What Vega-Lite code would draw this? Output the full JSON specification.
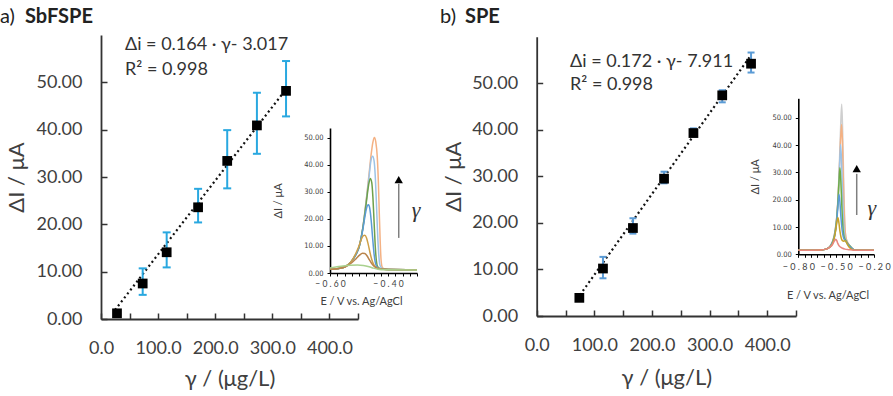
{
"$schema": "https://vega.github.io/schema/vega-lite/v6.json",
"width": 893, "height": 396, "autosize": {"type": "none"}, "padding": 0, "background": "white",
"config": {"view": {"stroke": null}, "font": "Lato",
  "axis": {"grid": false, "domain": true, "ticks": true, "labelFont": "Lato", "titleFont": "Lato", "labelFlush": false, "labelOverlap": false, "labelBound": false, "titleFontWeight": "normal"}},
"datasets": {
 "ptsA": [{"g":28,"I":1.2},{"g":73,"I":7.5,"lo":5.1,"hi":10.7},{"g":115,"I":14.1,"lo":10.9,"hi":18.3},{"g":170,"I":23.6,"lo":20.4,"hi":27.5},{"g":221,"I":33.4,"lo":27.6,"hi":39.9},{"g":273,"I":40.9,"lo":34.9,"hi":47.8},{"g":324,"I":48.2,"lo":42.8,"hi":54.5}],
 "ptsB": [{"g":74,"I":3.9},{"g":115,"I":10.2,"lo":8.1,"hi":12.7},{"g":167,"I":18.9,"lo":17.7,"hi":21.0},{"g":221,"I":29.5,"lo":28.5,"hi":31.0},{"g":272,"I":39.3,"lo":38.6,"hi":40.3},{"g":322,"I":47.4,"lo":45.9,"hi":48.5},{"g":372,"I":54.2,"lo":52.3,"hi":56.6}],
 "trendA": [{"g":24.5,"I":1.9},{"g":325,"I":48.7}],
 "trendB": [{"g":75,"I":4.5},{"g":370,"I":55.7}],
 "eqA": [{"g":42,"I":57.8,"t":"Δi = 0.164 · γ- 3.017"},{"g":42,"I":52.7,"t":"R² = 0.998"}],
 "eqB": [{"g":57.8,"I":54.5,"t":"Δi = 0.172 · γ- 7.911"},{"g":57.8,"I":49.7,"t":"R² = 0.998"}],
 "headA": [{"g":-177,"I":63.9,"t":"a)"}],
 "boldA": [{"g":-133,"I":63.9,"t":"SbFSPE"}],
 "headB": [{"g":-167.8,"I":64.3,"t":"b)"}],
 "boldB": [{"g":-124.4,"I":64.3,"t":"SPE"}],
 "curveA": [
  {"s":"s1","E":-0.6,"I":1.4},{"s":"s1","E":-0.57,"I":1.7},{"s":"s1","E":-0.545,"I":2.5},{"s":"s1","E":-0.525,"I":4.5},{"s":"s1","E":-0.51,"I":7},{"s":"s1","E":-0.5,"I":9.5},{"s":"s1","E":-0.487,"I":16.7},{"s":"s1","E":-0.473,"I":29},{"s":"s1","E":-0.465,"I":37},{"s":"s1","E":-0.458,"I":44},{"s":"s1","E":-0.452,"I":48.5},{"s":"s1","E":-0.447,"I":50.2},{"s":"s1","E":-0.442,"I":48.5},{"s":"s1","E":-0.437,"I":43},{"s":"s1","E":-0.433,"I":33},{"s":"s1","E":-0.43,"I":22},{"s":"s1","E":-0.427,"I":12},{"s":"s1","E":-0.424,"I":5},{"s":"s1","E":-0.42,"I":2.2},{"s":"s1","E":-0.413,"I":1.5},{"s":"s1","E":-0.4,"I":1.3},{"s":"s1","E":-0.3,"I":1.2},
  {"s":"s2","E":-0.6,"I":1.4},{"s":"s2","E":-0.57,"I":1.7},{"s":"s2","E":-0.545,"I":2.5},{"s":"s2","E":-0.525,"I":4.5},{"s":"s2","E":-0.51,"I":7},{"s":"s2","E":-0.5,"I":9.5},{"s":"s2","E":-0.487,"I":16.5},{"s":"s2","E":-0.473,"I":28.5},{"s":"s2","E":-0.465,"I":36},{"s":"s2","E":-0.459,"I":41.5},{"s":"s2","E":-0.453,"I":43.2},{"s":"s2","E":-0.448,"I":41.5},{"s":"s2","E":-0.444,"I":36},{"s":"s2","E":-0.44,"I":26},{"s":"s2","E":-0.436,"I":15},{"s":"s2","E":-0.432,"I":7},{"s":"s2","E":-0.428,"I":3},{"s":"s2","E":-0.422,"I":1.8},{"s":"s2","E":-0.41,"I":1.4},{"s":"s2","E":-0.3,"I":1.2},
  {"s":"s3","E":-0.6,"I":1.4},{"s":"s3","E":-0.57,"I":1.7},{"s":"s3","E":-0.545,"I":2.5},{"s":"s3","E":-0.525,"I":4.5},{"s":"s3","E":-0.51,"I":7},{"s":"s3","E":-0.5,"I":9.5},{"s":"s3","E":-0.487,"I":16.5},{"s":"s3","E":-0.475,"I":26},{"s":"s3","E":-0.467,"I":32.5},{"s":"s3","E":-0.461,"I":35},{"s":"s3","E":-0.456,"I":33.5},{"s":"s3","E":-0.452,"I":28},{"s":"s3","E":-0.448,"I":19},{"s":"s3","E":-0.444,"I":10},{"s":"s3","E":-0.44,"I":4.5},{"s":"s3","E":-0.435,"I":2.2},{"s":"s3","E":-0.425,"I":1.5},{"s":"s3","E":-0.4,"I":1.3},{"s":"s3","E":-0.3,"I":1.2},
  {"s":"s4","E":-0.6,"I":1.4},{"s":"s4","E":-0.57,"I":1.7},{"s":"s4","E":-0.545,"I":2.5},{"s":"s4","E":-0.525,"I":4.5},{"s":"s4","E":-0.51,"I":7},{"s":"s4","E":-0.5,"I":9.5},{"s":"s4","E":-0.487,"I":16},{"s":"s4","E":-0.477,"I":22.5},{"s":"s4","E":-0.471,"I":25},{"s":"s4","E":-0.467,"I":25.3},{"s":"s4","E":-0.463,"I":24},{"s":"s4","E":-0.458,"I":19.5},{"s":"s4","E":-0.453,"I":13},{"s":"s4","E":-0.448,"I":7},{"s":"s4","E":-0.444,"I":4},{"s":"s4","E":-0.438,"I":2.2},{"s":"s4","E":-0.43,"I":1.6},{"s":"s4","E":-0.4,"I":1.3},{"s":"s4","E":-0.3,"I":1.2},
  {"s":"s5","E":-0.6,"I":1.4},{"s":"s5","E":-0.57,"I":1.7},{"s":"s5","E":-0.545,"I":2.5},{"s":"s5","E":-0.525,"I":4.5},{"s":"s5","E":-0.51,"I":7.5},{"s":"s5","E":-0.5,"I":10},{"s":"s5","E":-0.492,"I":12.5},{"s":"s5","E":-0.485,"I":13.8},{"s":"s5","E":-0.48,"I":14},{"s":"s5","E":-0.474,"I":13},{"s":"s5","E":-0.468,"I":10.5},{"s":"s5","E":-0.462,"I":7.5},{"s":"s5","E":-0.456,"I":5},{"s":"s5","E":-0.45,"I":3.3},{"s":"s5","E":-0.443,"I":2.3},{"s":"s5","E":-0.435,"I":1.7},{"s":"s5","E":-0.42,"I":1.4},{"s":"s5","E":-0.3,"I":1.2},
  {"s":"s6","E":-0.6,"I":1.4},{"s":"s6","E":-0.57,"I":1.7},{"s":"s6","E":-0.545,"I":2.4},{"s":"s6","E":-0.525,"I":3.8},{"s":"s6","E":-0.51,"I":5.3},{"s":"s6","E":-0.498,"I":6.6},{"s":"s6","E":-0.488,"I":7.3},{"s":"s6","E":-0.48,"I":7.2},{"s":"s6","E":-0.472,"I":6.3},{"s":"s6","E":-0.465,"I":5},{"s":"s6","E":-0.458,"I":3.8},{"s":"s6","E":-0.45,"I":2.7},{"s":"s6","E":-0.44,"I":1.9},{"s":"s6","E":-0.43,"I":1.5},{"s":"s6","E":-0.4,"I":1.3},{"s":"s6","E":-0.3,"I":1.2},
  {"s":"s7","E":-0.6,"I":1.9},{"s":"s7","E":-0.58,"I":2.2},{"s":"s7","E":-0.555,"I":2.6},{"s":"s7","E":-0.53,"I":2.9},{"s":"s7","E":-0.505,"I":3.0},{"s":"s7","E":-0.485,"I":2.8},{"s":"s7","E":-0.465,"I":2.3},{"s":"s7","E":-0.45,"I":1.8},{"s":"s7","E":-0.435,"I":1.4},{"s":"s7","E":-0.41,"I":1.2},{"s":"s7","E":-0.3,"I":1.1}
 ],
 "curveB": [
  {"s":"s1","E":-0.8,"I":1.5},{"s":"s1","E":-0.7,"I":1.5},{"s":"s1","E":-0.62,"I":1.6},{"s":"s1","E":-0.58,"I":1.9},{"s":"s1","E":-0.55,"I":2.8},{"s":"s1","E":-0.53,"I":4.5},{"s":"s1","E":-0.51,"I":8},{"s":"s1","E":-0.495,"I":14},{"s":"s1","E":-0.483,"I":23},{"s":"s1","E":-0.473,"I":35},{"s":"s1","E":-0.465,"I":46},{"s":"s1","E":-0.456,"I":55},{"s":"s1","E":-0.449,"I":46},{"s":"s1","E":-0.443,"I":33},{"s":"s1","E":-0.437,"I":20},{"s":"s1","E":-0.431,"I":11},{"s":"s1","E":-0.424,"I":6.5},{"s":"s1","E":-0.415,"I":5},{"s":"s1","E":-0.405,"I":4},{"s":"s1","E":-0.39,"I":3},{"s":"s1","E":-0.37,"I":2},{"s":"s1","E":-0.35,"I":1.6},{"s":"s1","E":-0.3,"I":1.5},{"s":"s1","E":-0.2,"I":1.5},
  {"s":"s2","E":-0.8,"I":1.5},{"s":"s2","E":-0.7,"I":1.5},{"s":"s2","E":-0.62,"I":1.6},{"s":"s2","E":-0.58,"I":1.9},{"s":"s2","E":-0.55,"I":2.8},{"s":"s2","E":-0.53,"I":4.5},{"s":"s2","E":-0.51,"I":8},{"s":"s2","E":-0.495,"I":13.5},{"s":"s2","E":-0.483,"I":22},{"s":"s2","E":-0.473,"I":33},{"s":"s2","E":-0.465,"I":42},{"s":"s2","E":-0.457,"I":47.6},{"s":"s2","E":-0.45,"I":41},{"s":"s2","E":-0.444,"I":29},{"s":"s2","E":-0.438,"I":18},{"s":"s2","E":-0.431,"I":10},{"s":"s2","E":-0.424,"I":6.5},{"s":"s2","E":-0.415,"I":5},{"s":"s2","E":-0.405,"I":4},{"s":"s2","E":-0.39,"I":3},{"s":"s2","E":-0.37,"I":2},{"s":"s2","E":-0.35,"I":1.6},{"s":"s2","E":-0.3,"I":1.5},{"s":"s2","E":-0.2,"I":1.5},
  {"s":"s3","E":-0.8,"I":1.5},{"s":"s3","E":-0.7,"I":1.5},{"s":"s3","E":-0.62,"I":1.6},{"s":"s3","E":-0.58,"I":1.9},{"s":"s3","E":-0.55,"I":2.8},{"s":"s3","E":-0.53,"I":4.5},{"s":"s3","E":-0.51,"I":8},{"s":"s3","E":-0.495,"I":13.5},{"s":"s3","E":-0.483,"I":21},{"s":"s3","E":-0.474,"I":31},{"s":"s3","E":-0.465,"I":40.3},{"s":"s3","E":-0.458,"I":35},{"s":"s3","E":-0.451,"I":25},{"s":"s3","E":-0.444,"I":15},{"s":"s3","E":-0.437,"I":9},{"s":"s3","E":-0.429,"I":6},{"s":"s3","E":-0.42,"I":5},{"s":"s3","E":-0.41,"I":4},{"s":"s3","E":-0.39,"I":3},{"s":"s3","E":-0.37,"I":2},{"s":"s3","E":-0.35,"I":1.6},{"s":"s3","E":-0.3,"I":1.5},{"s":"s3","E":-0.2,"I":1.5},
  {"s":"s4","E":-0.8,"I":1.5},{"s":"s4","E":-0.7,"I":1.5},{"s":"s4","E":-0.62,"I":1.6},{"s":"s4","E":-0.58,"I":1.9},{"s":"s4","E":-0.55,"I":2.8},{"s":"s4","E":-0.53,"I":4.3},{"s":"s4","E":-0.51,"I":7.5},{"s":"s4","E":-0.495,"I":13},{"s":"s4","E":-0.484,"I":21},{"s":"s4","E":-0.476,"I":28},{"s":"s4","E":-0.47,"I":31.7},{"s":"s4","E":-0.463,"I":27},{"s":"s4","E":-0.456,"I":19},{"s":"s4","E":-0.448,"I":11},{"s":"s4","E":-0.44,"I":7},{"s":"s4","E":-0.43,"I":5.5},{"s":"s4","E":-0.42,"I":4.8},{"s":"s4","E":-0.41,"I":4},{"s":"s4","E":-0.39,"I":3},{"s":"s4","E":-0.37,"I":2},{"s":"s4","E":-0.35,"I":1.6},{"s":"s4","E":-0.3,"I":1.5},{"s":"s4","E":-0.2,"I":1.5},
  {"s":"s5","E":-0.8,"I":1.5},{"s":"s5","E":-0.7,"I":1.5},{"s":"s5","E":-0.62,"I":1.6},{"s":"s5","E":-0.58,"I":1.9},{"s":"s5","E":-0.55,"I":2.7},{"s":"s5","E":-0.53,"I":4.2},{"s":"s5","E":-0.51,"I":7},{"s":"s5","E":-0.497,"I":11.5},{"s":"s5","E":-0.487,"I":17},{"s":"s5","E":-0.4775,"I":22},{"s":"s5","E":-0.47,"I":19},{"s":"s5","E":-0.462,"I":13.5},{"s":"s5","E":-0.453,"I":9},{"s":"s5","E":-0.444,"I":6.5},{"s":"s5","E":-0.432,"I":5.2},{"s":"s5","E":-0.42,"I":4.5},{"s":"s5","E":-0.41,"I":3.8},{"s":"s5","E":-0.39,"I":2.8},{"s":"s5","E":-0.37,"I":2},{"s":"s5","E":-0.35,"I":1.6},{"s":"s5","E":-0.3,"I":1.5},{"s":"s5","E":-0.2,"I":1.5},
  {"s":"s6","E":-0.8,"I":1.5},{"s":"s6","E":-0.7,"I":1.5},{"s":"s6","E":-0.62,"I":1.6},{"s":"s6","E":-0.58,"I":1.9},{"s":"s6","E":-0.55,"I":2.6},{"s":"s6","E":-0.53,"I":3.8},{"s":"s6","E":-0.515,"I":6},{"s":"s6","E":-0.503,"I":9},{"s":"s6","E":-0.494,"I":12},{"s":"s6","E":-0.4855,"I":13.4},{"s":"s6","E":-0.478,"I":11.5},{"s":"s6","E":-0.47,"I":8.5},{"s":"s6","E":-0.46,"I":6},{"s":"s6","E":-0.45,"I":5},{"s":"s6","E":-0.44,"I":4.8},{"s":"s6","E":-0.43,"I":5},{"s":"s6","E":-0.42,"I":4.5},{"s":"s6","E":-0.41,"I":3.5},{"s":"s6","E":-0.395,"I":2.5},{"s":"s6","E":-0.375,"I":1.8},{"s":"s6","E":-0.35,"I":1.5},{"s":"s6","E":-0.2,"I":1.5},
  {"s":"s7","E":-0.8,"I":1.5},{"s":"s7","E":-0.62,"I":1.6},{"s":"s7","E":-0.58,"I":1.9},{"s":"s7","E":-0.55,"I":2.6},{"s":"s7","E":-0.53,"I":3.5},{"s":"s7","E":-0.515,"I":4.8},{"s":"s7","E":-0.504,"I":5.5},{"s":"s7","E":-0.495,"I":5},{"s":"s7","E":-0.487,"I":4},{"s":"s7","E":-0.478,"I":3.2},{"s":"s7","E":-0.465,"I":2.6},{"s":"s7","E":-0.45,"I":2.2},{"s":"s7","E":-0.43,"I":1.9},{"s":"s7","E":-0.4,"I":1.7},{"s":"s7","E":-0.36,"I":1.5},{"s":"s7","E":-0.2,"I":1.5}
 ]
},
"layer": [
 {"layer": [
  {"data": {"name": "trendA"}, "mark": {"type": "line", "color": "#111", "strokeDash": [2, 3], "strokeWidth": 2.2},
   "encoding": {
    "x": {"field": "g", "type": "quantitative", "scale": {"domain": [0, 450], "range": [101, 358], "nice": false, "zero": false},
      "axis": {"orient": "bottom", "offset": -77, "domain": true, "ticks": true, "values": [0,50,100,150,200,250,300,350,400,450], "labelExpr": "datum.value % 100 === 0 && datum.value < 450 ? format(datum.value, '.1f') : ''", "tickSize": -6, "tickWidth": 1.5, "tickColor": "#333", "domainColor": "#333", "domainWidth": 1.8, "labelFontSize": 18, "labelColor": "#404040", "labelPadding": 26, "title": "γ / (μg/L)", "titleFontSize": 22, "titleColor": "#404040", "titleY": 59, "titleBaseline": "middle"}},
    "y": {"field": "I", "type": "quantitative", "scale": {"domain": [0, 60], "range": [319, 35], "nice": false, "zero": false},
      "axis": {"orient": "left", "offset": -101, "domain": true, "ticks": true, "values": [0,5,10,15,20,25,30,35,40,45,50,55], "labelExpr": "datum.value % 10 === 0 ? format(datum.value, '.2f') : ''", "tickSize": -6, "tickWidth": 1.5, "tickColor": "#333", "domainColor": "#333", "domainWidth": 1.8, "labelFontSize": 18, "labelColor": "#404040", "labelPadding": 25, "title": "ΔI / μA", "titleFontSize": 22, "titleColor": "#404040", "titleX": -85, "titleBaseline": "middle"}}}},
  {"data": {"name": "ptsA"}, "transform": [{"filter": "isValid(datum.lo)"}], "mark": {"type": "rule", "color": "#29A8E0", "strokeWidth": 2},
   "encoding": {"x": {"field": "g", "type": "quantitative"}, "y": {"field": "lo", "type": "quantitative"}, "y2": {"field": "hi"}}},
  {"data": {"name": "ptsA"}, "transform": [{"filter": "isValid(datum.lo)"}], "mark": {"type": "tick", "orient": "horizontal", "color": "#29A8E0", "size": 8, "thickness": 2, "opacity": 1},
   "encoding": {"x": {"field": "g", "type": "quantitative"}, "y": {"field": "lo", "type": "quantitative"}}},
  {"data": {"name": "ptsA"}, "transform": [{"filter": "isValid(datum.lo)"}], "mark": {"type": "tick", "orient": "horizontal", "color": "#29A8E0", "size": 8, "thickness": 2, "opacity": 1},
   "encoding": {"x": {"field": "g", "type": "quantitative"}, "y": {"field": "hi", "type": "quantitative"}}},
  {"data": {"name": "ptsA"}, "mark": {"type": "point", "shape": "square", "filled": true, "color": "#000", "size": 95, "opacity": 1},
   "encoding": {"x": {"field": "g", "type": "quantitative"}, "y": {"field": "I", "type": "quantitative"}}},
  {"data": {"name": "eqA"}, "mark": {"type": "text", "align": "left", "baseline": "middle", "fontSize": 18, "color": "#333"},
   "encoding": {"x": {"field": "g", "type": "quantitative"}, "y": {"field": "I", "type": "quantitative"}, "text": {"field": "t"}}},
  {"data": {"name": "headA"}, "mark": {"type": "text", "align": "left", "baseline": "middle", "fontSize": 20, "color": "#222"},
   "encoding": {"x": {"field": "g", "type": "quantitative"}, "y": {"field": "I", "type": "quantitative"}, "text": {"field": "t"}}},
  {"data": {"name": "boldA"}, "mark": {"type": "text", "align": "left", "baseline": "middle", "fontSize": 20, "fontWeight": "bold", "color": "#222"},
   "encoding": {"x": {"field": "g", "type": "quantitative"}, "y": {"field": "I", "type": "quantitative"}, "text": {"field": "t"}}}
 ]},
 {"layer": [
  {"data": {"name": "curveA"}, "mark": {"type": "line", "strokeWidth": 1.5, "interpolate": "monotone"},
   "encoding": {
    "x": {"field": "E", "type": "quantitative", "scale": {"domain": [-0.6, -0.3], "range": [330, 417], "nice": false, "zero": false},
      "axis": {"orient": "bottom", "offset": -123, "domain": true, "ticks": true, "values": [-0.6,-0.575,-0.55,-0.525,-0.5,-0.475,-0.45,-0.425,-0.4,-0.375,-0.35,-0.325,-0.3], "labelExpr": "abs(datum.value + 0.6) < 0.001 || abs(datum.value + 0.4) < 0.001 ? join(split(format(datum.value, '.2f'), ''), ' ') : ''", "tickSize": 3, "tickWidth": 1, "tickColor": "#000", "domainColor": "#000", "domainWidth": 1.6, "labelFontSize": 8.5, "labelColor": "#404040", "labelPadding": 3, "labelDx": -4, "title": "E / V vs. Ag/AgCl", "titleFontSize": 11, "titleColor": "#404040", "titleX": 361, "titleY": 28, "titleBaseline": "middle"}},
    "y": {"field": "I", "type": "quantitative", "scale": {"domain": [0, 53.7], "range": [273, 128], "nice": false, "zero": false},
      "axis": {"orient": "left", "offset": -330, "domain": true, "ticks": true, "values": [0,5,10,15,20,25,30,35,40,45,50], "labelExpr": "datum.value % 10 === 0 ? format(datum.value, '.2f') : ''", "tickSize": 3, "tickWidth": 1, "tickColor": "#000", "domainColor": "#000", "domainWidth": 1.6, "labelFont": "Liberation Sans Narrow, DejaVu Sans Condensed, Lato", "labelFontSize": 7.5, "labelColor": "#404040", "labelPadding": 4, "title": "ΔI / μA", "titleFontSize": 11, "titleColor": "#404040", "titleX": -52, "titleBaseline": "middle"}},
    "color": {"field": "s", "type": "nominal", "legend": null, "scale": {"domain": ["s1","s2","s3","s4","s5","s6","s7"], "range": ["#F4B183","#9DC3E6","#6FA04A","#5B9BD5","#CFA048","#B9844C","#A9D18E"]}}}},
  {"data": {"values": [{"E": -0.363, "I1": 13, "I2": 33}]}, "mark": {"type": "rule", "color": "#7f7f7f", "strokeWidth": 1.5},
   "encoding": {"x": {"field": "E", "type": "quantitative"}, "y": {"field": "I1", "type": "quantitative"}, "y2": {"field": "I2"}}},
  {"data": {"values": [{"E": -0.363, "I": 34.6}]}, "mark": {"type": "point", "shape": "triangle-up", "filled": true, "color": "#000", "size": 70, "opacity": 1},
   "encoding": {"x": {"field": "E", "type": "quantitative"}, "y": {"field": "I", "type": "quantitative"}}},
  {"data": {"values": [{"E": -0.3034, "I": 23.3, "t": "γ"}]}, "mark": {"type": "text", "align": "center", "baseline": "middle", "fontSize": 22, "fontStyle": "italic", "font": "Liberation Serif", "color": "#333"},
   "encoding": {"x": {"field": "E", "type": "quantitative"}, "y": {"field": "I", "type": "quantitative"}, "text": {"field": "t"}}}
 ]},
 {"layer": [
  {"data": {"name": "trendB"}, "mark": {"type": "line", "color": "#111", "strokeDash": [2, 3], "strokeWidth": 2.2},
   "encoding": {
    "x": {"field": "g", "type": "quantitative", "scale": {"domain": [0, 450], "range": [536.7, 796], "nice": false, "zero": false},
      "axis": {"orient": "bottom", "offset": -80, "domain": true, "ticks": true, "values": [0,50,100,150,200,250,300,350,400,450], "labelExpr": "datum.value % 100 === 0 && datum.value < 450 ? format(datum.value, '.1f') : ''", "tickSize": -6, "tickWidth": 1.5, "tickColor": "#333", "domainColor": "#333", "domainWidth": 1.8, "labelFontSize": 18, "labelColor": "#404040", "labelPadding": 26, "title": "γ / (μg/L)", "titleFontSize": 22, "titleColor": "#404040", "titleY": 61, "titleBaseline": "middle"}},
    "y": {"field": "I", "type": "quantitative", "scale": {"domain": [0, 60], "range": [316, 36.7], "nice": false, "zero": false},
      "axis": {"orient": "left", "offset": -536.7, "domain": true, "ticks": true, "values": [0,5,10,15,20,25,30,35,40,45,50,55], "labelExpr": "datum.value % 10 === 0 ? format(datum.value, '.2f') : ''", "tickSize": -6, "tickWidth": 1.5, "tickColor": "#333", "domainColor": "#333", "domainWidth": 1.8, "labelFontSize": 18, "labelColor": "#404040", "labelPadding": 25, "title": "ΔI / μA", "titleFontSize": 22, "titleColor": "#404040", "titleX": -83.7, "titleBaseline": "middle"}}}},
  {"data": {"name": "ptsB"}, "transform": [{"filter": "isValid(datum.lo)"}], "mark": {"type": "rule", "color": "#5B9BD5", "strokeWidth": 2},
   "encoding": {"x": {"field": "g", "type": "quantitative"}, "y": {"field": "lo", "type": "quantitative"}, "y2": {"field": "hi"}}},
  {"data": {"name": "ptsB"}, "transform": [{"filter": "isValid(datum.lo)"}], "mark": {"type": "tick", "orient": "horizontal", "color": "#5B9BD5", "size": 7, "thickness": 2, "opacity": 1},
   "encoding": {"x": {"field": "g", "type": "quantitative"}, "y": {"field": "lo", "type": "quantitative"}}},
  {"data": {"name": "ptsB"}, "transform": [{"filter": "isValid(datum.lo)"}], "mark": {"type": "tick", "orient": "horizontal", "color": "#5B9BD5", "size": 7, "thickness": 2, "opacity": 1},
   "encoding": {"x": {"field": "g", "type": "quantitative"}, "y": {"field": "hi", "type": "quantitative"}}},
  {"data": {"name": "ptsB"}, "mark": {"type": "point", "shape": "square", "filled": true, "color": "#000", "size": 95, "opacity": 1},
   "encoding": {"x": {"field": "g", "type": "quantitative"}, "y": {"field": "I", "type": "quantitative"}}},
  {"data": {"name": "eqB"}, "mark": {"type": "text", "align": "left", "baseline": "middle", "fontSize": 18, "color": "#333"},
   "encoding": {"x": {"field": "g", "type": "quantitative"}, "y": {"field": "I", "type": "quantitative"}, "text": {"field": "t"}}},
  {"data": {"name": "headB"}, "mark": {"type": "text", "align": "left", "baseline": "middle", "fontSize": 20, "color": "#222"},
   "encoding": {"x": {"field": "g", "type": "quantitative"}, "y": {"field": "I", "type": "quantitative"}, "text": {"field": "t"}}},
  {"data": {"name": "boldB"}, "mark": {"type": "text", "align": "left", "baseline": "middle", "fontSize": 20, "fontWeight": "bold", "color": "#222"},
   "encoding": {"x": {"field": "g", "type": "quantitative"}, "y": {"field": "I", "type": "quantitative"}, "text": {"field": "t"}}}
 ]},
 {"layer": [
  {"data": {"name": "curveB"}, "mark": {"type": "line", "strokeWidth": 1.5, "interpolate": "monotone"},
   "encoding": {
    "x": {"field": "E", "type": "quantitative", "scale": {"domain": [-0.8, -0.2], "range": [798.3, 874], "nice": false, "zero": false},
      "axis": {"orient": "bottom", "offset": -141.7, "domain": true, "ticks": true, "values": [-0.8,-0.75,-0.7,-0.65,-0.6,-0.55,-0.5,-0.45,-0.4,-0.35,-0.3,-0.25,-0.2], "labelExpr": "abs(datum.value + 0.8) < 0.001 || abs(datum.value + 0.5) < 0.001 || abs(datum.value + 0.2) < 0.001 ? join(split(format(datum.value, '.2f'), ''), ' ') : ''", "tickSize": 3, "tickWidth": 1, "tickColor": "#000", "domainColor": "#000", "domainWidth": 1.6, "labelFontSize": 9, "labelColor": "#404040", "labelPadding": 5, "labelDx": -4, "title": "E / V vs. Ag/AgCl", "titleFontSize": 11, "titleColor": "#404040", "titleX": 827.5, "titleY": 40.7, "titleBaseline": "middle"}},
    "y": {"field": "I", "type": "quantitative", "scale": {"domain": [0, 57.2], "range": [254.3, 98.3], "nice": false, "zero": false},
      "axis": {"orient": "left", "offset": -798.3, "domain": true, "ticks": true, "values": [0,5,10,15,20,25,30,35,40,45,50,55], "labelExpr": "datum.value % 10 === 0 ? format(datum.value, '.2f') : ''", "tickSize": 3, "tickWidth": 1, "tickColor": "#000", "domainColor": "#000", "domainWidth": 1.6, "labelFont": "Liberation Sans Narrow, DejaVu Sans Condensed, Lato", "labelFontSize": 7.5, "labelColor": "#404040", "labelPadding": 4, "title": "ΔI / μA", "titleFontSize": 11, "titleColor": "#404040", "titleX": -43, "titleBaseline": "middle"}},
    "color": {"field": "s", "type": "nominal", "legend": null, "scale": {"domain": ["s1","s2","s3","s4","s5","s6","s7"], "range": ["#CFCFCF","#F4B183","#9DC3E6","#70AD47","#5B9BD5","#C9A227","#E8877F"]}}}},
  {"data": {"values": [{"E": -0.337, "I1": 14.4, "I2": 29.5}]}, "mark": {"type": "rule", "color": "#7f7f7f", "strokeWidth": 1.5},
   "encoding": {"x": {"field": "E", "type": "quantitative"}, "y": {"field": "I1", "type": "quantitative"}, "y2": {"field": "I2"}}},
  {"data": {"values": [{"E": -0.337, "I": 31.4}]}, "mark": {"type": "point", "shape": "triangle-up", "filled": true, "color": "#000", "size": 70, "opacity": 1},
   "encoding": {"x": {"field": "E", "type": "quantitative"}, "y": {"field": "I", "type": "quantitative"}}},
  {"data": {"values": [{"E": -0.218, "I": 17.1, "t": "γ"}]}, "mark": {"type": "text", "align": "center", "baseline": "middle", "fontSize": 22, "fontStyle": "italic", "font": "Liberation Serif", "color": "#333"},
   "encoding": {"x": {"field": "E", "type": "quantitative"}, "y": {"field": "I", "type": "quantitative"}, "text": {"field": "t"}}}
 ]}
],
"resolve": {"scale": {"x": "independent", "y": "independent", "color": "independent"}, "axis": {"x": "independent", "y": "independent"}}
}
